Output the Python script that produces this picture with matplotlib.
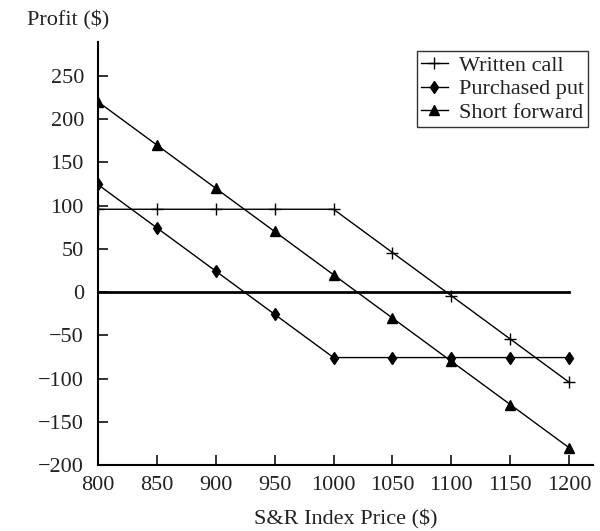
import matplotlib.pyplot as plt

prices = [800, 850, 900, 950, 1000, 1050, 1100, 1150, 1200]
written_call = [95.68, 95.68, 95.68, 95.68, 95.68, 45.68, -4.32, -54.32, -104.32]
purchased_put = [124.32, 74.32, 24.32, -25.68, -75.68, -75.68, -75.68, -75.68, -75.68]
short_forward = [220, 170, 120, 70, 20, -30, -80, -130, -180]

plt.rcParams["font.family"] = ["Liberation Serif", "DejaVu Serif"]
plt.rcParams["font.size"] = 16

fig = plt.figure(figsize=(6, 5.31), dpi=100)
ax = fig.add_axes([0.163, 0.124, 0.825, 0.797])

ax.plot(prices, written_call, color="black", linewidth=1, marker="+",
        markersize=9, markeredgewidth=1, label="Written call")
ax.plot(prices, purchased_put, color="black", linewidth=1, marker="d",
        markersize=6, label="Purchased put")
ax.plot(prices, short_forward, color="black", linewidth=1, marker="^",
        markersize=7, label="Short forward")
ax.plot([prices[0], prices[-1]], [0, 0], color="black", linewidth=2)

ax.set_xlim(800, 1220)
ax.set_ylim(-200, 289)
ax.set_xticks(prices)
ax.set_yticks(range(-200, 251, 50))
ax.set_yticklabels([str(v).replace("-", "\u2212") for v in range(-200, 251, 50)])
ax.tick_params(direction="in", length=7, width=1.3, color="#222222", labelcolor="#222222")
ax.tick_params(axis="y", pad=10)
ax.tick_params(axis="x", pad=8)
for side in ["top", "right"]:
    ax.spines[side].set_visible(False)
for side in ["left", "bottom"]:
    ax.spines[side].set_linewidth(1.5)

ax.set_xlabel("S&R Index Price ($)", labelpad=10, color="#222222")
fig.text(0.045, 0.962, "Profit ($)", ha="left", va="center", color="#222222")

leg = ax.legend(loc="upper right", bbox_to_anchor=(1.0, 0.99), frameon=True,
                fancybox=False, edgecolor="black", handlelength=1.2,
                handletextpad=0.5, borderpad=0.2, labelspacing=0.14,
                borderaxespad=0.2)
leg.get_frame().set_linewidth(1)
for t in leg.get_texts():
    t.set_color("#222222")

fig.savefig("out.png", dpi=100)
